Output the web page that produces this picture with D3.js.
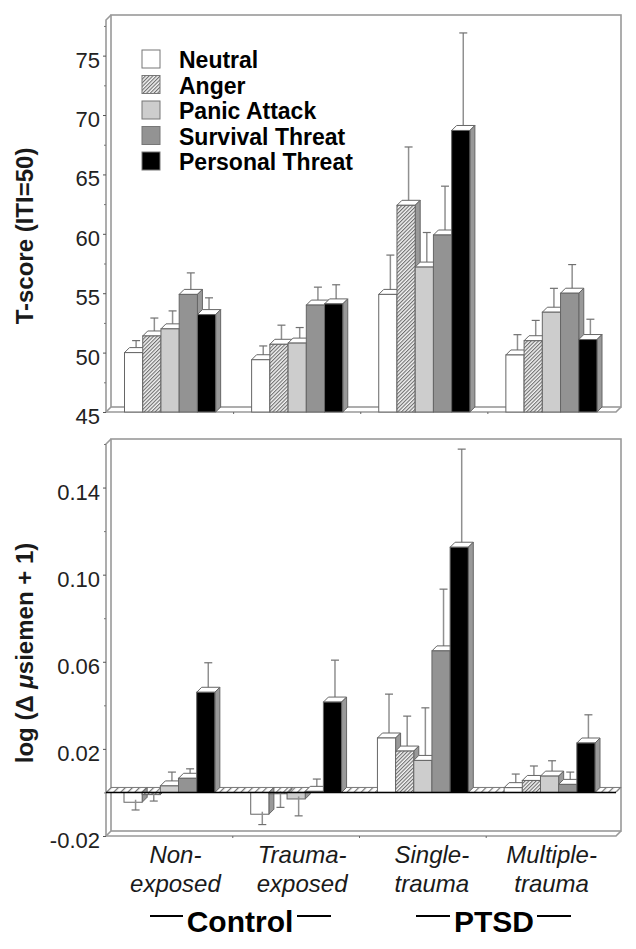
<!DOCTYPE html>
<html>
<head>
<meta charset="utf-8">
<script src="https://cdnjs.cloudflare.com/ajax/libs/d3/7.8.5/d3.min.js"></script>
<style>
  html, body { margin: 0; padding: 0; background: #fff; }
  text { font-family: "Liberation Sans", Arial, sans-serif; fill: #1a1a1a; }
</style>
</head>
<body>
<div id="chart"></div>
<script>
// groups and series
const groups = ["Non-exposed", "Trauma-exposed", "Single-trauma", "Multiple-trauma"];
const series = ["Neutral", "Anger", "Panic Attack", "Survival Threat", "Personal Threat"];

// T-score means, one row per group
const tNeutral = [50.0, 49.4, 54.9, 49.8];
const tAnger = [51.4, 50.7, 62.4, 51.0];
const tPanic = [52.0, 50.8, 57.2, 53.4];
const tSurvival = [54.9, 54.0, 59.9, 55.0];
const tPersonal = [53.2, 54.1, 68.7, 51.1];

// T-score top of the error bars
const tNeutralErr = [50.8, 50.35, 58.0, 51.3];
const tAngerErr = [52.7, 52.1, 67.1, 52.5];
const tPanicErr = [53.3, 51.9, 59.9, 55.2];
const tSurvivalErr = [56.5, 55.3, 63.8, 57.2];
const tPersonalErr = [54.4, 55.5, 76.7, 52.6];

// skin conductance means
const logNeutral = [-0.0045, -0.0100, 0.0250, 0.0022];
const logAnger = [-0.0010, -0.0006, 0.0190, 0.0055];
const logPanic = [0.0030, -0.0030, 0.0147, 0.0075];
const logSurvival = [0.0065, 0.0005, 0.0650, 0.0037];
const logPersonal = [0.0460, 0.0415, 0.1126, 0.0227];

// skin conductance end of the error bars
const logNeutralErr = [-0.0092, -0.0159, 0.0440, 0.0073];
const logAngerErr = [-0.0051, -0.0080, 0.0339, 0.0110];
const logPanicErr = [0.0082, -0.0119, 0.0377, 0.0134];
const logSurvivalErr = [0.0097, 0.0050, 0.0922, 0.0082];
const logPersonalErr = [0.0584, 0.0596, 0.1565, 0.0345];

const tTicks = [45, 50, 55, 60, 65, 70, 75];
const logTicks = [-0.02, 0.02, 0.06, 0.10, 0.14];
const logMinor = [0, 0.04, 0.08, 0.12, 0.16];
const tMinor = [47.5, 52.5, 57.5, 62.5, 67.5, 72.5, 77.5];

const width = 636, height = 949;
const depth = 5;
const fills = ["#ffffff", "url(#hatch)", "#cdcdcd", "#939393", "#000000"];

const svg = d3.select("#chart").append("svg")
  .attr("width", width)
  .attr("height", height)
  .style("display", "block");

//hatching for anger bars
const defs = svg.append("defs");
const hatch = defs.append("pattern")
  .attr("id", "hatch")
  .attr("width", 2.6).attr("height", 2.6)
  .attr("patternUnits", "userSpaceOnUse")
  .attr("patternTransform", "rotate(-45)");
hatch.append("rect").attr("width", 2.6).attr("height", 2.6).attr("fill", "#f4f4f4");
hatch.append("rect").attr("width", 2.6).attr("height", 1.1).attr("fill", "#6e6e6e");

//sparser one for the zero strip
const strip = defs.append("pattern")
  .attr("id", "strip")
  .attr("width", 5).attr("height", 5)
  .attr("patternUnits", "userSpaceOnUse")
  .attr("patternTransform", "rotate(-45)");
strip.append("rect").attr("width", 5).attr("height", 5).attr("fill", "#fff");
strip.append("rect").attr("width", 5).attr("height", 1.2).attr("fill", "#777");

function poly(g, pts, fill, stroke) {
  g.append("polygon")
    .attr("points", pts.map(p => p.join(",")).join(" "))
    .attr("fill", fill)
    .attr("stroke", stroke || "#666")
    .attr("stroke-width", 1);
}

function drawPanel(cfg) {
  const g = svg.append("g");
  const y = d3.scaleLinear().domain(cfg.domain).range(cfg.yRange);
  const x0 = d3.scaleBand().domain(groups).range(cfg.xRange).paddingInner(0.283);
  const x1 = d3.scaleBand().domain(series).range([0, x0.bandwidth()]);

  const left = 106, right = 616;
  const top = cfg.yRange[1], bottom = cfg.yRange[0];
  const wall = g.append("g").attr("fill", "none").attr("stroke", "#999").attr("stroke-width", 1.6);

  // back wall, left wall and floor
  wall.append("rect").attr("x", left + depth).attr("y", top - depth)
    .attr("width", right - left).attr("height", bottom - top);
  wall.append("path").attr("d", `M${left},${bottom}V${top}L${left + depth},${top - depth}`);
  wall.append("path").attr("d", `M${left},${bottom}L${left + depth},${bottom - depth}`);
  wall.append("path").attr("d", `M${left},${bottom}H${right}L${right + depth},${bottom - depth}`);

  // axis, no domain line of its own
  const axis = g.append("g").attr("transform", `translate(${left},0)`)
    .call(d3.axisLeft(y).tickValues(cfg.ticks).tickSize(3).tickPadding(3).tickFormat(cfg.format));
  axis.select(".domain").remove();
  axis.selectAll("line").attr("stroke", "#555");
  axis.selectAll("text")
    .style("font-size", "22px")
    .attr("dy", "11.5px")
    .style("fill", "#222");
  const minor = g.append("g").attr("transform", `translate(${left},0)`)
    .call(d3.axisLeft(y).tickValues(cfg.minor).tickSize(2).tickFormat(""));
  minor.select(".domain").remove();
  minor.selectAll("line").attr("stroke", "#777");

  // tick marks between the groups on the floor
  const step = x0.step();
  g.selectAll(".gtick").data(groups.slice(1)).enter().append("line")
    .attr("x1", d => x0(d) - (step - x0.bandwidth()) / 2)
    .attr("x2", d => x0(d) - (step - x0.bandwidth()) / 2)
    .attr("y1", bottom).attr("y2", bottom + 2)
    .attr("stroke", "#666");

  // hatched floor at zero for the lower panel
  if (cfg.zeroStrip) {
    const z = y(0);
    poly(g, [[left, z], [left + depth, z - depth], [right + depth, z - depth], [right, z]], "url(#strip)", "#777");
  }

  const base = y(cfg.base);

  // bars, left to right so each one covers the side of the last
  groups.forEach((grp, gi) => {
    series.forEach((s, si) => {
      const v = cfg.values[si][gi];
      const e = cfg.errs[si][gi];
      const bx = x0(grp) + x1(s);
      const bw = x1.bandwidth();
      const vy = y(v);
      const bar = g.append("g");
      const midX = bx + bw / 2 + depth / 2;
      const sideFill = "#999";

      function errorBar() {
        const ey = y(e) - depth / 2;
        bar.append("line").attr("x1", midX).attr("x2", midX)
          .attr("y1", vy - depth / 2).attr("y2", ey)
          .attr("stroke", "#909090").attr("stroke-width", 1.5);
        bar.append("line").attr("x1", midX - 4).attr("x2", midX + 4)
          .attr("y1", ey).attr("y2", ey)
          .attr("stroke", "#707070").attr("stroke-width", 1.2);
      }

      if (v >= cfg.base) {
        errorBar();
        poly(bar, [[bx, vy], [bx + depth, vy - depth], [bx + bw + depth, vy - depth], [bx + bw, vy]], "#fff");
        poly(bar, [[bx + bw, vy], [bx + bw + depth, vy - depth], [bx + bw + depth, base - depth], [bx + bw, base]], sideFill);
        bar.append("rect")
          .attr("x", bx).attr("y", vy)
          .attr("width", bw).attr("height", base - vy)
          .attr("fill", fills[si])
          .attr("stroke", "#666").attr("stroke-width", 1);
      } else {
        // hanging bar below the zero floor
        poly(bar, [[bx + bw, vy], [bx + bw + depth, vy - depth], [bx + bw + depth, base - depth], [bx + bw, base]], sideFill);
        bar.append("rect")
          .attr("x", bx).attr("y", base)
          .attr("width", bw).attr("height", vy - base)
          .attr("fill", fills[si])
          .attr("stroke", "#666").attr("stroke-width", 1);
        errorBar();
      }
    });
  });

  if (cfg.zeroStrip) {
    g.append("line").attr("x1", left).attr("x2", right)
      .attr("y1", y(0)).attr("y2", y(0))
      .attr("stroke", "#000").attr("stroke-width", 1.6);
  }
  return x0;
}

// upper panel
drawPanel({
  domain: [45, 78],
  yRange: [412, 20],
  xRange: [124.5, 597],
  ticks: tTicks,
  minor: tMinor,
  format: d3.format("d"),
  base: 45,
  values: [tNeutral, tAnger, tPanic, tSurvival, tPersonal],
  errs: [tNeutralErr, tAngerErr, tPanicErr, tSurvivalErr, tPersonalErr]
});

// lower panel
const lowerX = drawPanel({
  domain: [-0.02, 0.16],
  yRange: [836, 444],
  xRange: [124, 595],
  ticks: logTicks,
  minor: logMinor,
  format: d => d.toFixed(2),
  base: 0,
  zeroStrip: true,
  values: [logNeutral, logAnger, logPanic, logSurvival, logPersonal],
  errs: [logNeutralErr, logAngerErr, logPanicErr, logSurvivalErr, logPersonalErr]
});

// legend
const legendY = d3.scalePoint().domain(series).range([59, 161]);
const legend = svg.append("g");
series.forEach((s, i) => {
  legend.append("rect")
    .attr("x", 142).attr("y", legendY(s) - 9)
    .attr("width", 18).attr("height", 18)
    .attr("fill", fills[i])
    .attr("stroke", "#777");
  legend.append("text")
    .attr("x", 179).attr("y", legendY(s) + 9)
    .style("font-size", "23px").style("font-weight", "bold")
    .style("fill", "#000")
    .text(s);
});

// axis titles
svg.append("text")
  .attr("transform", "translate(33,236) rotate(-90)")
  .attr("text-anchor", "middle")
  .style("font-size", "24px").style("font-weight", "bold")
  .text("T-score (ITI=50)");

const logTitle = svg.append("text")
  .attr("transform", "translate(33,653) rotate(-90)")
  .attr("text-anchor", "middle")
  .style("font-size", "24px").style("font-weight", "bold");
logTitle.append("tspan").text("log (Δ ");
logTitle.append("tspan").style("font-style", "italic").text("μ");
logTitle.append("tspan").text("siemen + 1)");

// group labels
const groupLines = [["Non-", "exposed"], ["Trauma-", "exposed"], ["Single-", "trauma"], ["Multiple-", "trauma"]];
const labelShift = [6, 6, 9, 2];
groupLines.forEach((lines, i) => {
  lines.forEach((t, j) => {
    svg.append("text")
      .attr("x", lowerX(groups[i]) + lowerX.bandwidth() / 2 + labelShift[i])
      .attr("y", 863 + j * 29)
      .attr("text-anchor", "middle")
      .style("font-size", "24px").style("font-style", "italic")
      .text(t);
  });
});

// bottom headings with rules either side
[["Control", 240, 150, 183, 297, 331], ["PTSD", 494, 416, 450, 537, 571]].forEach(h => {
  svg.append("text")
    .attr("x", h[1]).attr("y", 932)
    .attr("text-anchor", "middle")
    .style("font-size", "30px").style("font-weight", "bold")
    .style("fill", "#000")
    .text(h[0]);
  svg.append("path")
    .attr("d", `M${h[2]},916H${h[3]}M${h[4]},916H${h[5]}`)
    .attr("stroke", "#000").attr("stroke-width", 2.2);
});
</script>
</body>
</html>
